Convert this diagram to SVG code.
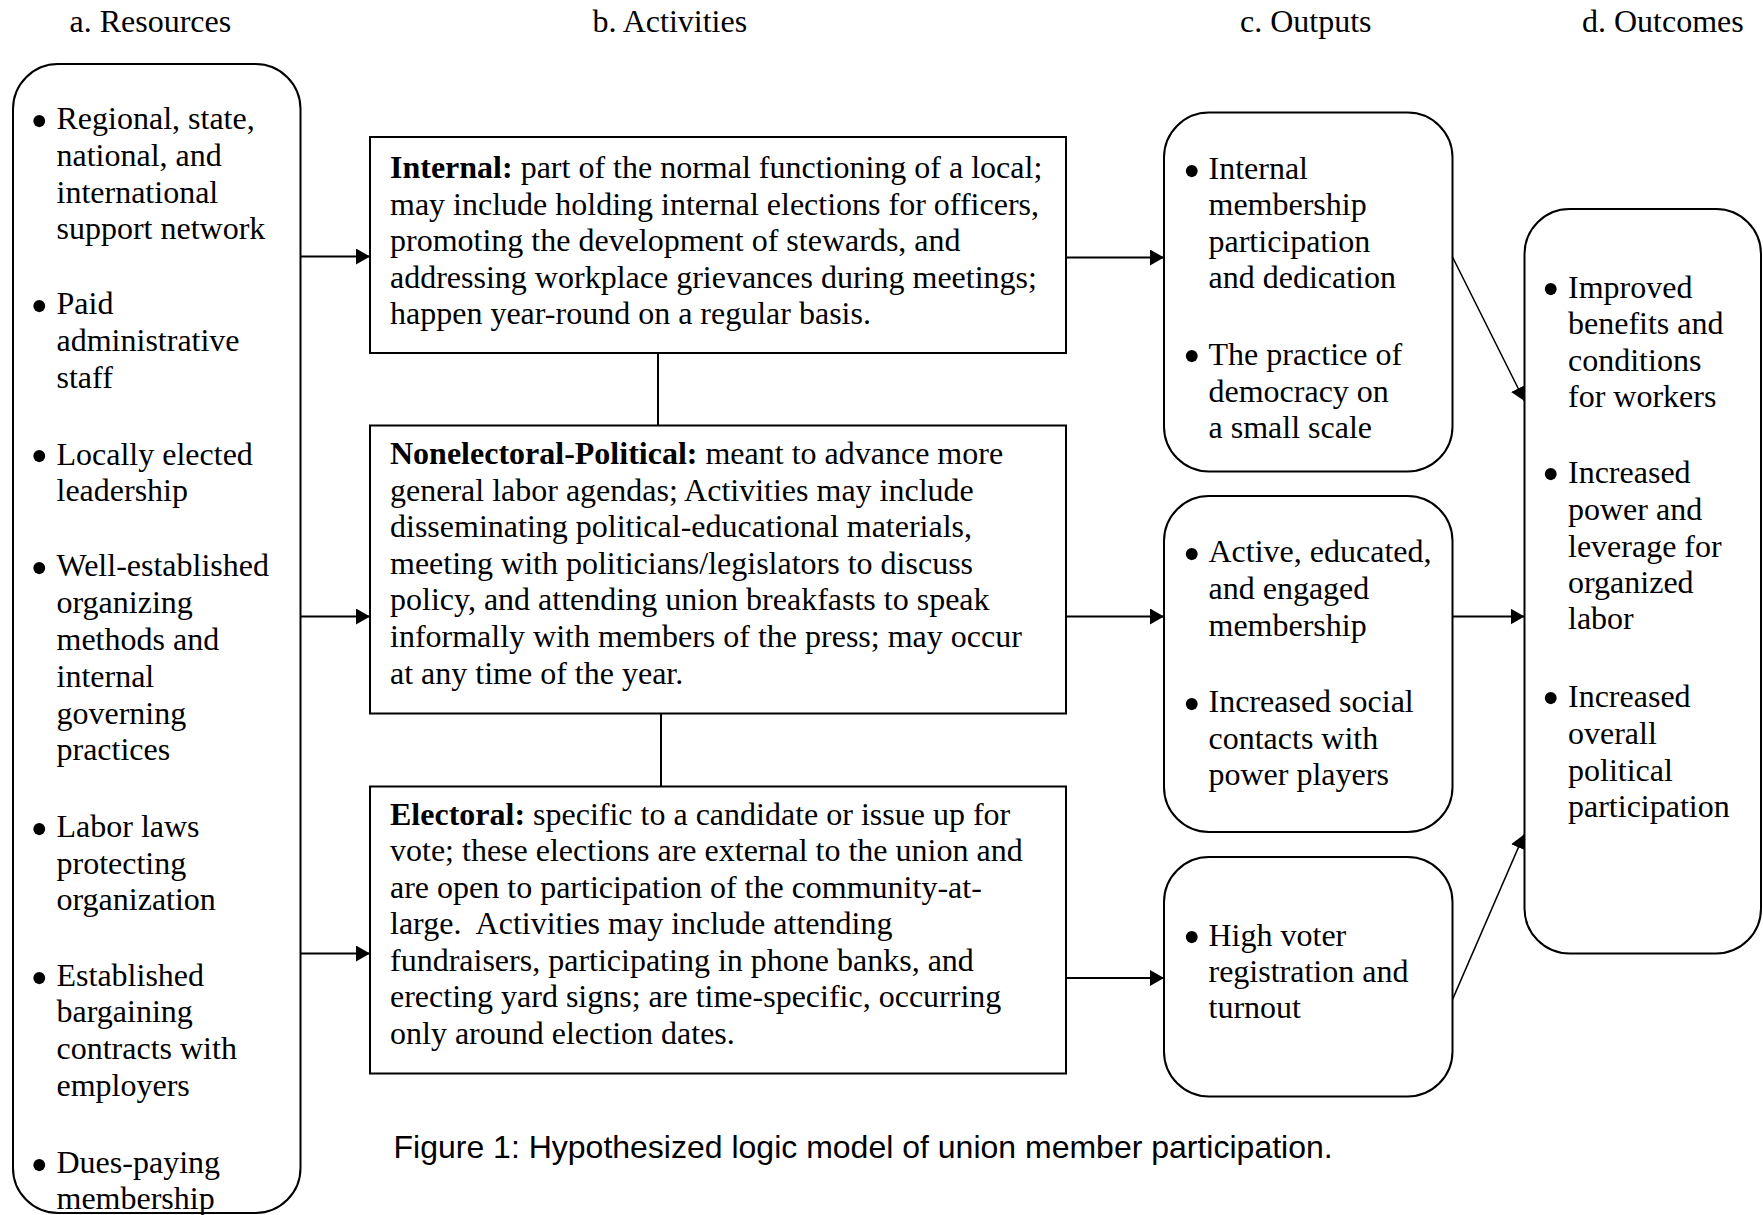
<svg xmlns="http://www.w3.org/2000/svg" width="1763" height="1215" viewBox="0 0 1763 1215">
<defs>
<style>
.t{font-family:"Liberation Serif","Times New Roman",serif;font-size:32px;fill:#000}
.b{font-weight:bold}
.bul{font-family:"Liberation Serif","Times New Roman",serif;font-size:50px;fill:#000;text-anchor:middle}
.cap{font-family:"Liberation Sans",Arial,sans-serif;font-size:32px;fill:#000}
.box{fill:#fff;stroke:#000;stroke-width:2}
.c{fill:none;stroke:#000;stroke-width:2}
.d{fill:none;stroke:#000;stroke-width:1.6}
</style>
<marker id="ah" markerUnits="userSpaceOnUse" markerWidth="15" markerHeight="16" refX="14" refY="8" orient="auto">
<path d="M0,0 L14,8 L0,16 Z" fill="#000"/>
</marker>
</defs>
<rect width="1763" height="1215" fill="#fff"/>

<g id="headers" class="t">
<text x="69.5" y="32">a. Resources</text>
<text x="592.5" y="32">b. Activities</text>
<text x="1240" y="32">c. Outputs</text>
<text x="1582" y="32">d. Outcomes</text>
</g>

<g id="connectors">
<line class="c" x1="300.5" y1="256.5" x2="370" y2="256.5" marker-end="url(#ah)"/>
<line class="c" x1="300.5" y1="616.5" x2="370" y2="616.5" marker-end="url(#ah)"/>
<line class="c" x1="300.5" y1="953.5" x2="370" y2="953.5" marker-end="url(#ah)"/>
<line class="c" x1="658" y1="353" x2="658" y2="425.5"/>
<line class="c" x1="661" y1="713.5" x2="661" y2="786.5"/>
<line class="c" x1="1066" y1="257.5" x2="1164" y2="257.5" marker-end="url(#ah)"/>
<line class="c" x1="1066" y1="616.5" x2="1164" y2="616.5" marker-end="url(#ah)"/>
<line class="c" x1="1066" y1="978" x2="1164" y2="978" marker-end="url(#ah)"/>
<line class="d" x1="1452.5" y1="257" x2="1524.5" y2="401" marker-end="url(#ah)"/>
<line class="c" x1="1452.5" y1="616.5" x2="1524.5" y2="616.5" marker-end="url(#ah)"/>
<line class="d" x1="1452.5" y1="999.5" x2="1524" y2="834.5" marker-end="url(#ah)"/>
</g>

<g id="resources">
<rect class="box" x="13" y="64" width="287.5" height="1149" rx="45" ry="45"/>
<g class="bul">
<text x="39.3" y="137.5">•</text>
<text x="39.3" y="322.5">•</text>
<text x="39.3" y="473">•</text>
<text x="39.3" y="584.5">•</text>
<text x="39.3" y="845.5">•</text>
<text x="39.3" y="994.5">•</text>
<text x="39.3" y="1181.5">•</text>
</g>
<text class="t">
<tspan x="56.5" y="129">Regional, state,</tspan>
<tspan x="56.5" y="165.5">national, and</tspan>
<tspan x="56.5" y="202.5">international</tspan>
<tspan x="56.5" y="238.5">support network</tspan>
<tspan x="56.5" y="314">Paid</tspan>
<tspan x="56.5" y="351">administrative</tspan>
<tspan x="56.5" y="388">staff</tspan>
<tspan x="56.5" y="464.5">Locally elected</tspan>
<tspan x="56.5" y="500.5">leadership</tspan>
<tspan x="56.5" y="576">Well-established</tspan>
<tspan x="56.5" y="613">organizing</tspan>
<tspan x="56.5" y="650">methods and</tspan>
<tspan x="56.5" y="687">internal</tspan>
<tspan x="56.5" y="724">governing</tspan>
<tspan x="56.5" y="760">practices</tspan>
<tspan x="56.5" y="837">Labor laws</tspan>
<tspan x="56.5" y="874">protecting</tspan>
<tspan x="56.5" y="910">organization</tspan>
<tspan x="56.5" y="986">Established</tspan>
<tspan x="56.5" y="1022">bargaining</tspan>
<tspan x="56.5" y="1059">contracts with</tspan>
<tspan x="56.5" y="1096">employers</tspan>
<tspan x="56.5" y="1173">Dues-paying</tspan>
<tspan x="56.5" y="1209">membership</tspan>
</text>
</g>

<g id="activity-internal">
<rect class="box" x="370" y="137" width="696" height="216"/>
<text class="t">
<tspan x="390" y="178"><tspan class="b">Internal:</tspan> part of the normal functioning of a local;</tspan>
<tspan x="390" y="214.5">may include holding internal elections for officers,</tspan>
<tspan x="390" y="251">promoting the development of stewards, and</tspan>
<tspan x="390" y="287.5">addressing workplace grievances during meetings;</tspan>
<tspan x="390" y="324">happen year-round on a regular basis.</tspan>
</text>
</g>

<g id="activity-nonelectoral">
<rect class="box" x="370" y="425.5" width="696" height="288"/>
<text class="t">
<tspan x="390" y="464"><tspan class="b">Nonelectoral-Political:</tspan> meant to advance more</tspan>
<tspan x="390" y="500.6">general labor agendas; Activities may include</tspan>
<tspan x="390" y="537.2">disseminating political-educational materials,</tspan>
<tspan x="390" y="573.8">meeting with politicians/legislators to discuss</tspan>
<tspan x="390" y="610.4">policy, and attending union breakfasts to speak</tspan>
<tspan x="390" y="647">informally with members of the press; may occur</tspan>
<tspan x="390" y="683.6">at any time of the year.</tspan>
</text>
</g>

<g id="activity-electoral">
<rect class="box" x="370" y="786.5" width="696" height="287"/>
<text class="t" xml:space="preserve">
<tspan x="390" y="824.5"><tspan class="b">Electoral:</tspan> specific to a candidate or issue up for</tspan>
<tspan x="390" y="861">vote; these elections are external to the union and</tspan>
<tspan x="390" y="897.6">are open to participation of the community-at-</tspan>
<tspan x="390" y="934.2">large.  Activities may include attending</tspan>
<tspan x="390" y="970.8">fundraisers, participating in phone banks, and</tspan>
<tspan x="390" y="1007.4">erecting yard signs; are time-specific, occurring</tspan>
<tspan x="390" y="1044">only around election dates.</tspan>
</text>
</g>

<g id="output-internal">
<rect class="box" x="1164" y="112.5" width="288.5" height="359" rx="45" ry="45"/>
<g class="bul">
<text x="1191.7" y="187.5">•</text>
<text x="1191.7" y="373">•</text>
</g>
<text class="t">
<tspan x="1208.5" y="179">Internal</tspan>
<tspan x="1208.5" y="215">membership</tspan>
<tspan x="1208.5" y="252">participation</tspan>
<tspan x="1208.5" y="288">and dedication</tspan>
<tspan x="1208.5" y="364.5">The practice of</tspan>
<tspan x="1208.5" y="401.5">democracy on</tspan>
<tspan x="1208.5" y="437.5">a small scale</tspan>
</text>
</g>

<g id="output-political">
<rect class="box" x="1164" y="496" width="288.5" height="336" rx="45" ry="45"/>
<g class="bul">
<text x="1191.7" y="570.5">•</text>
<text x="1191.7" y="720.5">•</text>
</g>
<text class="t">
<tspan x="1208.5" y="562">Active, educated,</tspan>
<tspan x="1208.5" y="599">and engaged</tspan>
<tspan x="1208.5" y="635.5">membership</tspan>
<tspan x="1208.5" y="712">Increased social</tspan>
<tspan x="1208.5" y="749">contacts with</tspan>
<tspan x="1208.5" y="785">power players</tspan>
</text>
</g>

<g id="output-electoral">
<rect class="box" x="1164" y="857" width="288.5" height="239.5" rx="45" ry="45"/>
<g class="bul">
<text x="1191.7" y="954">•</text>
</g>
<text class="t">
<tspan x="1208.5" y="945.5">High voter</tspan>
<tspan x="1208.5" y="982">registration and</tspan>
<tspan x="1208.5" y="1018">turnout</tspan>
</text>
</g>

<g id="outcomes">
<rect class="box" x="1524.5" y="209" width="236.5" height="744.5" rx="45" ry="45"/>
<g class="bul">
<text x="1550.7" y="306">•</text>
<text x="1550.7" y="491">•</text>
<text x="1550.7" y="715">•</text>
</g>
<text class="t">
<tspan x="1568" y="297.5">Improved</tspan>
<tspan x="1568" y="334">benefits and</tspan>
<tspan x="1568" y="370.5">conditions</tspan>
<tspan x="1568" y="407">for workers</tspan>
<tspan x="1568" y="482.5">Increased</tspan>
<tspan x="1568" y="519.5">power and</tspan>
<tspan x="1568" y="556.5">leverage for</tspan>
<tspan x="1568" y="592.5">organized</tspan>
<tspan x="1568" y="629">labor</tspan>
<tspan x="1568" y="706.5">Increased</tspan>
<tspan x="1568" y="743.5">overall</tspan>
<tspan x="1568" y="780.5">political</tspan>
<tspan x="1568" y="816.5">participation</tspan>
</text>
</g>

<g id="caption">
<text class="cap" x="393.5" y="1158">Figure 1: Hypothesized logic model of union member participation.</text>
</g>
</svg>
